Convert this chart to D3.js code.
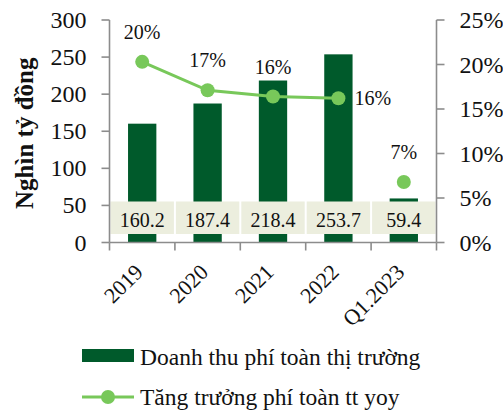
<!DOCTYPE html>
<html>
<head>
<meta charset="utf-8">
<script src="https://cdn.jsdelivr.net/npm/d3@7"></script>
</head>
<body style="margin:0;background:#fff">
<svg id="chart" width="503" height="410" style="display:block"></svg>
<script>
const categories = ["2019", "2020", "2021", "2022", "Q1.2023"];
const revenue = [160.2, 187.4, 218.4, 253.7, 59.4];
const growth = [0.203, 0.171, 0.164, 0.162, 0.068];
const growthLabels = ["20%", "17%", "16%", "16%", "7%"];
const leftTicks = [0, 50, 100, 150, 200, 250, 300];
const rightTicks = [0, 0.05, 0.10, 0.15, 0.20, 0.25];
const yTitle = "Nghìn tỷ đồng";
const legendBar = "Doanh thu phí toàn thị trường";
const legendLine = "Tăng trưởng phí toàn tt yoy";

(function () {
const barColor = "#005a2b";
const lineColor = "#78c85a";
const boxColor = "#eceede";
const axisColor = "#8c8c8c";
const fstyle = (size, bold) => `font-family:'Liberation Serif', monospace;font-size:${size}px;` + (bold ? "font-weight:bold;" : "");

const svg = d3.select("#chart");
const pLeft = 109.5, pRight = 436.5, pTop = 20, pBottom = 242.5;

const x = d3.scaleBand().domain(categories).range([pLeft, pRight]).padding(0);
const yL = d3.scaleLinear().domain([0, 300]).range([pBottom, pTop]);
const yR = d3.scaleLinear().domain([0, 0.25]).range([pBottom, pTop]);
const barW = x.bandwidth() * 0.433;
const cx = c => x(c) + x.bandwidth() / 2;

// bars
svg.append("g").selectAll("rect").data(categories).join("rect")
  .attr("x", c => cx(c) - barW / 2)
  .attr("width", barW)
  .attr("y", (c, i) => yL(revenue[i]))
  .attr("height", (c, i) => yL(0) - yL(revenue[i]))
  .attr("fill", barColor);

// data label boxes
const boxG = svg.append("g");
boxG.selectAll("rect").data(categories).join("rect")
  .attr("x", c => x(c) + 1)
  .attr("width", x.bandwidth() - 2)
  .attr("y", yL(0) - 41)
  .attr("height", 32.5)
  .attr("fill", boxColor);
boxG.selectAll("text").data(categories).join("text")
  .attr("x", cx)
  .attr("y", yL(0) - 15.5)
  .attr("text-anchor", "middle")
  .attr("style", fstyle(20))
  .attr("fill", "#111")
  .text((c, i) => revenue[i].toFixed(1));

// axes
const ax = svg.append("g").attr("stroke", axisColor).attr("stroke-width", 1.6).attr("fill", "none");
ax.append("line").attr("x1", pLeft).attr("x2", pLeft).attr("y1", pTop).attr("y2", pBottom);
ax.append("line").attr("x1", pRight).attr("x2", pRight).attr("y1", pTop).attr("y2", pBottom);
ax.append("line").attr("x1", pLeft).attr("x2", pRight).attr("y1", pBottom).attr("y2", pBottom);
ax.selectAll(".lt").data(leftTicks).join("line").attr("class", "lt")
  .attr("x1", pLeft - 8).attr("x2", pLeft).attr("y1", d => yL(d)).attr("y2", d => yL(d));
ax.selectAll(".rt").data(rightTicks).join("line").attr("class", "rt")
  .attr("x1", pRight).attr("x2", pRight + 8).attr("y1", d => yR(d)).attr("y2", d => yR(d));
const edges = categories.map(c => x(c)).concat([x.range()[1]]);
ax.selectAll(".xt").data(edges).join("line").attr("class", "xt")
  .attr("x1", d => d).attr("x2", d => d).attr("y1", pBottom).attr("y2", pBottom + 8);

// tick labels
svg.append("g").selectAll("text").data(leftTicks).join("text")
  .attr("x", pLeft - 23).attr("y", d => yL(d) + 8)
  .attr("text-anchor", "end").attr("style", fstyle(24)).attr("fill", "#111")
  .text(d => d);
svg.append("g").selectAll("text").data(rightTicks).join("text")
  .attr("x", pRight + 23).attr("y", d => yR(d) + 8)
  .attr("text-anchor", "start").attr("style", fstyle(24)).attr("fill", "#111")
  .text(d => d3.format(".0%")(d));
svg.append("g").selectAll("text").data(categories).join("text")
  .attr("transform", c => `translate(${cx(c) + 2},${pBottom + 31}) rotate(-45)`)
  .attr("text-anchor", "end").attr("style", fstyle(22)).attr("fill", "#111")
  .text(c => c);

// y title
svg.append("text")
  .attr("transform", `translate(33,${(pTop + pBottom) / 2 + 2}) rotate(-90)`)
  .attr("text-anchor", "middle").attr("style", fstyle(25, true)).attr("fill", "#111")
  .text(yTitle);

// growth line
const line = d3.line()
  .defined((d, i) => i < 4)
  .x((d, i) => cx(categories[i]))
  .y(d => yR(d));
svg.append("path").datum(growth)
  .attr("d", line).attr("fill", "none").attr("stroke", lineColor).attr("stroke-width", 3);
svg.append("g").selectAll("circle").data(growth).join("circle")
  .attr("cx", (d, i) => cx(categories[i])).attr("cy", d => yR(d)).attr("r", 7)
  .attr("fill", lineColor);
svg.append("g").selectAll("text").data(growth).join("text")
  .attr("x", (d, i) => i === 3 ? cx(categories[i]) + 16 : cx(categories[i]))
  .attr("y", (d, i) => i === 3 ? yR(d) + 7 : yR(d) - 23)
  .attr("text-anchor", (d, i) => i === 3 ? "start" : "middle")
  .attr("style", fstyle(20)).attr("fill", "#111")
  .text((d, i) => growthLabels[i]);

// legend
const lg = svg.append("g");
lg.append("rect").attr("x", 82).attr("y", 349).attr("width", 52).attr("height", 13).attr("fill", barColor);
lg.append("text").attr("x", 140).attr("y", 365).attr("style", fstyle(23.5))
  .attr("fill", "#111").text(legendBar);
lg.append("line").attr("x1", 82).attr("x2", 134).attr("y1", 397).attr("y2", 397)
  .attr("stroke", lineColor).attr("stroke-width", 3);
lg.append("circle").attr("cx", 108).attr("cy", 397).attr("r", 7).attr("fill", lineColor);
lg.append("text").attr("x", 140).attr("y", 405).attr("style", fstyle(23.5))
  .attr("fill", "#111").text(legendLine);
})();
</script>
</body>
</html>
